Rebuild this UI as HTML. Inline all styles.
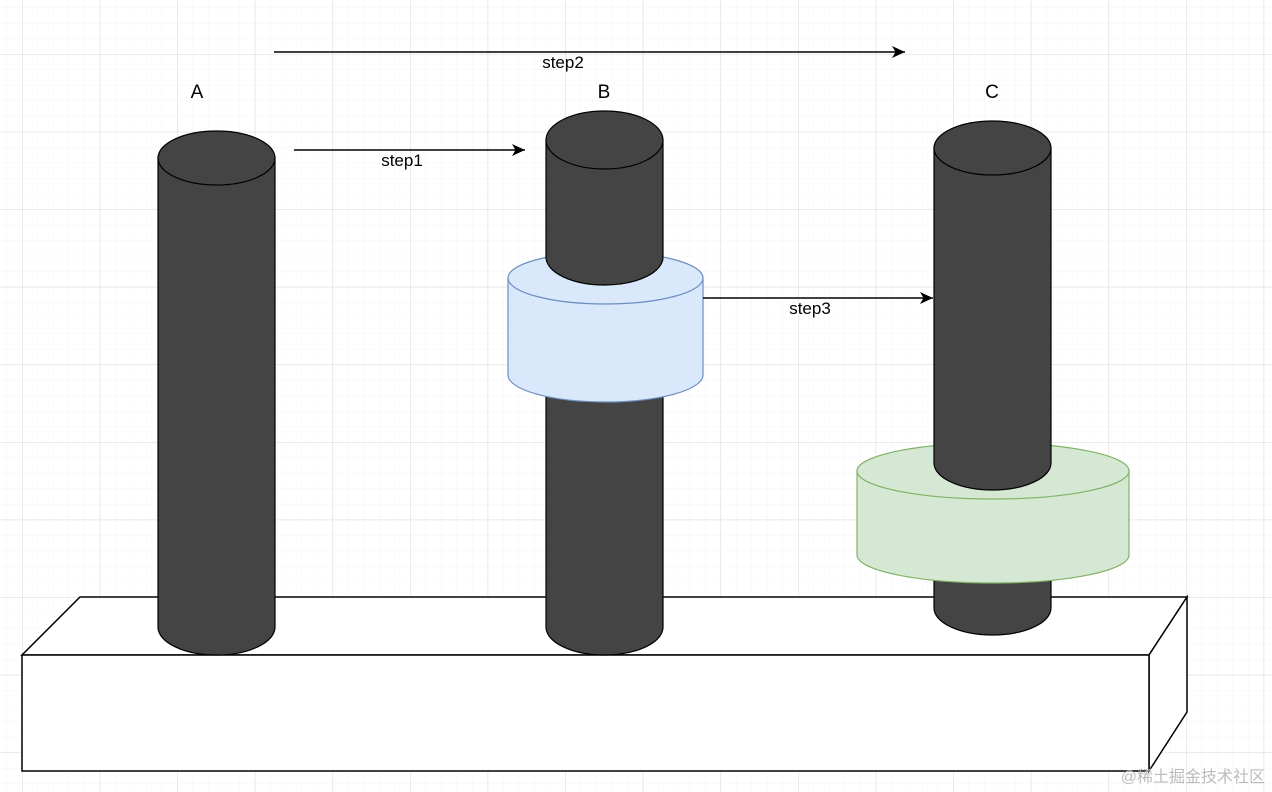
<!DOCTYPE html>
<html><head><meta charset="utf-8"><style>
html,body{margin:0;padding:0;background:#fff;}
svg{display:block;}
text{font-family:"Liberation Sans",Arial,sans-serif;font-size:17px;fill:#000;}
</style></head><body>
<svg width="1272" height="792" viewBox="0 0 1272 792" xmlns="http://www.w3.org/2000/svg">
<defs>
<pattern id="gmin" x="22" y="54" width="15.52" height="15.52" patternUnits="userSpaceOnUse">
<path d="M0 0V15.52M0 0H15.52" stroke="#f4f4f4" stroke-width="1" fill="none"/>
</pattern>
<pattern id="gmaj" x="22" y="54" width="77.6" height="77.6" patternUnits="userSpaceOnUse">
<path d="M0 0V77.6M0 0H77.6" stroke="#dedede" stroke-width="1.2" fill="none"/>
</pattern>
<marker id="ar" markerWidth="14" markerHeight="12" refX="13" refY="6" orient="auto" markerUnits="userSpaceOnUse">
<path d="M0 0L13 6L0 12L3.5 6Z" fill="#000"/>
</marker>
</defs>
<rect width="1272" height="792" fill="#fff"/>
<rect width="1272" height="792" fill="url(#gmin)"/>
<rect width="1272" height="792" fill="url(#gmaj)"/>

<path d="M22 655L80 597L1187 597L1149 655Z" fill="#fff" stroke="#000" stroke-width="1.5"/>
<path d="M1149 655L1187 597L1187 712L1149 771Z" fill="#fff" stroke="#000" stroke-width="1.5"/>
<rect x="22" y="655" width="1127" height="116" fill="#fff" stroke="#000" stroke-width="1.5"/>

<path d="M158 158V627A58.5 28 0 0 0 275 627V158Z" fill="#444" stroke="#000" stroke-width="1.2"/>
<ellipse cx="216.5" cy="158" rx="58.5" ry="27" fill="#444" stroke="#000" stroke-width="1.2"/>

<path d="M546 380V627A58.5 28 0 0 0 663 627V380Z" fill="#444" stroke="#000" stroke-width="1.2"/>
<path d="M508 278V375A97.5 27 0 0 0 703 375V278Z" fill="#dae8fc" stroke="#6c8ebf" stroke-width="1.2"/>
<ellipse cx="605.5" cy="278" rx="97.5" ry="26" fill="#dae8fc" stroke="#6c8ebf" stroke-width="1.2"/>
<path d="M546 140V257A58.5 28 0 0 0 663 257V140Z" fill="#444" stroke="#000" stroke-width="1.2"/>
<ellipse cx="604.5" cy="140" rx="58.5" ry="29" fill="#444" stroke="#000" stroke-width="1.2"/>

<path d="M934 560V608A58.5 27 0 0 0 1051 608V560Z" fill="#444" stroke="#000" stroke-width="1.2"/>
<path d="M857 471V555A136 28 0 0 0 1129 555V471Z" fill="#d5e8d4" stroke="#82b366" stroke-width="1.2"/>
<ellipse cx="993" cy="471" rx="136" ry="28" fill="#d5e8d4" stroke="#82b366" stroke-width="1.2"/>
<path d="M934 148V463A58.5 27 0 0 0 1051 463V148Z" fill="#444" stroke="#000" stroke-width="1.2"/>
<ellipse cx="992.5" cy="148" rx="58.5" ry="27" fill="#444" stroke="#000" stroke-width="1.2"/>

<line x1="274" y1="52" x2="905" y2="52" stroke="#000" stroke-width="1.5" marker-end="url(#ar)"/>
<text x="563" y="68" text-anchor="middle">step2</text>
<line x1="294" y1="150" x2="525" y2="150" stroke="#000" stroke-width="1.5" marker-end="url(#ar)"/>
<text x="402" y="166" text-anchor="middle">step1</text>
<line x1="703" y1="298" x2="933" y2="298" stroke="#000" stroke-width="1.5" marker-end="url(#ar)"/>
<text x="810" y="314" text-anchor="middle">step3</text>

<text x="197" y="98" text-anchor="middle" style="font-size:19px">A</text>
<text x="604" y="98" text-anchor="middle" style="font-size:19px">B</text>
<text x="992" y="98" text-anchor="middle" style="font-size:19px">C</text>

<text x="1265" y="782" text-anchor="end" style="font-family:'Liberation Sans','Noto Sans CJK SC',sans-serif;font-size:16px;fill:#bbb">@稀土掘金技术社区</text>
</svg>
</body></html>
